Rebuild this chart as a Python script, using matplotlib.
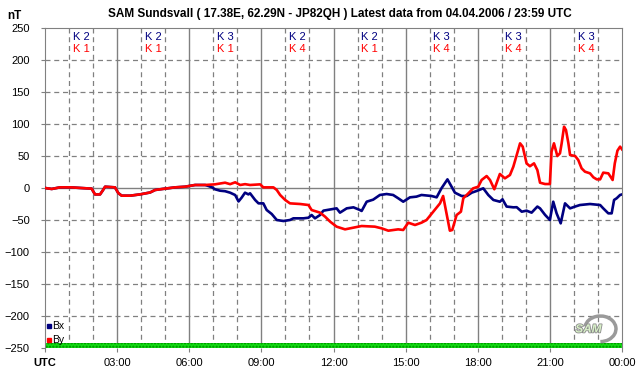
import matplotlib
matplotlib.use('Agg')
import matplotlib.pyplot as plt
import matplotlib.patheffects as pe
from matplotlib.patches import Arc
import numpy as np

plt.rcParams['font.family'] = ['Liberation Sans', 'DejaVu Sans']

# hours (UTC) and nT values
hours_bx = [0, 0.28, 0.62, 1.08, 1.5, 1.94, 2.08, 2.29, 2.4, 2.5, 2.91, 3.05, 3.19,
            3.54, 3.95, 4.37, 4.58, 4.99, 5.41, 5.82, 6.24, 6.66, 6.8, 6.95, 7.07,
            7.28, 7.49, 7.7, 7.91, 8.05, 8.18, 8.32, 8.46, 8.53, 8.74, 8.88, 9.08,
            9.22, 9.43, 9.64, 9.92, 10.19, 10.33, 10.75, 10.96, 11.09, 11.23, 11.44,
            11.58, 12.13, 12.27, 12.55, 12.83, 13.1, 13.17, 13.38, 13.65, 13.93,
            14.21, 14.48, 14.69, 14.9, 15.18, 15.45, 15.66, 16.08, 16.29, 16.49,
            16.74, 17.05, 17.33, 17.54, 17.75, 17.95, 18.23, 18.44, 18.65, 18.92,
            19.03, 19.2, 19.48, 19.62, 19.83, 20.03, 20.24, 20.48, 20.59, 20.8,
            21.0, 21.14, 21.28, 21.45, 21.63, 21.84, 22.05, 22.25, 22.67, 23.09,
            23.22, 23.43, 23.57, 23.67, 23.78, 23.92, 24.0]
bx = [0, -1.5, 1, 1, 0, -1, -10, -10, -4, 2, 1, -8, -12,
      -12, -10, -7, -3.1, -1, 1, 2, 4.7, 4.7, 3.1, 1, -2,
      -4.2, -5, -7.3, -11, -21, -15, -7.3, -10, -8.3, -18.7, -24, -24,
      -34.4, -40.6, -50, -51.6, -50, -47.4, -47.4, -46.4, -42.2, -47.4, -42.2,
      -35.4, -31.8, -38.5, -31.8, -30.2, -34.4, -35.9, -21.4, -18.2, -10.9,
      -9.4, -10.9, -16, -21.4, -14.6, -13.5, -10.9, -12.5, -14.6, -0.5,
      13.5, -7.3, -12.5, -12.5, -7.3, -4.7, -0.5, -11, -18.7, -21.4,
      -17.7, -29, -30.2, -30, -37, -35.4, -38.5, -29, -31.8, -42,
      -50, -21.4, -39.6, -55.2, -24, -31.8, -29, -26.6, -25, -26.6,
      -31.8, -39.6, -39.6, -18.7, -16, -10.9, -10]

hours_by = [0, 0.28, 0.62, 1.08, 1.5, 1.94, 2.08, 2.29, 2.4, 2.5, 2.91, 3.05, 3.19,
            3.54, 3.95, 4.37, 4.58, 4.99, 5.41, 5.82, 6.24, 6.66, 7.07, 7.49, 7.7,
            7.91, 8.12, 8.32, 8.53, 8.95, 9.08, 9.5, 9.64, 9.78, 9.99, 10.19, 10.61,
            10.96, 11.09, 11.44, 11.65, 11.86, 12.13, 12.48, 12.89, 13.17, 13.72,
            14.0, 14.28, 14.69, 14.9, 15.11, 15.39, 15.66, 15.87, 16.15, 16.43,
            16.56, 16.7, 16.84, 16.94, 17.12, 17.3, 17.4, 17.61, 17.81, 18.02,
            18.16, 18.37, 18.51, 18.69, 18.92, 19.13, 19.34, 19.48, 19.64, 19.76,
            19.87, 20.03, 20.17, 20.34, 20.48, 20.59, 20.8, 21.0, 21.07, 21.17,
            21.31, 21.42, 21.49, 21.59, 21.67, 21.77, 21.84, 22.05, 22.18, 22.32,
            22.46, 22.67, 22.81, 22.95, 23.09, 23.22, 23.43, 23.54, 23.61, 23.7,
            23.81, 23.92, 24.0]
by = [0, -1.5, 1, 1, 0, -1, -10, -10, -4, 2, 1, -8, -12,
      -12, -10, -7, -3.1, -1, 1, 2, 4.7, 4.7, 5.7, 8.3, 6,
      8.9, 4.7, 6, 4.7, 5.7, 1, 1, -3.1, -10.9, -18.7, -24, -25,
      -26.6, -34.4, -38.5, -44.8, -52.6, -60.4, -64.6, -61.5, -59.4, -60.4,
      -63, -66.7, -64.6, -65.6, -54.2, -57.8, -54.2, -50, -37, -24,
      -12.5, -39.6, -66.7, -65.6, -42.2, -37, -16, -8.3, -0.5, 2,
      12.5, 18.7, 12.5, -2, 21.9, 15.1, 20.3, 33.3, 54, 69.8,
      64.6, 38.5, 34, 38.5, 28, 8.3, 6.2, 6.2, 56.8, 69.8,
      50, 54.2, 69.8, 95.8, 90.6, 69.8, 51.6, 50, 43.8, 30.7,
      25.5, 22.9, 16.7, 13.5, 13.5, 24, 22.9, 16.7, 12.5, 38.5,
      58.3, 64.6, 60.4]

k_bx = [2, 2, 3, 2, 2, 3, 3, 3]
k_by = [1, 1, 1, 4, 1, 4, 4, 4]
x_labels = ['UTC', '03:00', '06:00', '09:00', '12:00', '15:00', '18:00', '21:00', '00:00']

fig = plt.figure(figsize=(6.42, 3.76), dpi=100)
ax = fig.add_axes([45 / 642, 1 - 348 / 376, 577 / 642, 320 / 376])
ax.set_xlim(0, 24)
ax.set_ylim(-250, 250)

grid = '#808080'
# grid: solid every 3 h and at 0, dashed elsewhere
for h in range(1, 24):
    if h % 3 == 0:
        ax.axvline(h, color=grid, lw=1.0, zorder=1)
    else:
        ax.axvline(h, color=grid, lw=0.9, ls=(0, (4, 3)), zorder=1)
for v in range(-200, 250, 50):
    if v == 0:
        ax.axhline(v, color=grid, lw=1.0, zorder=1)
    else:
        ax.axhline(v, color=grid, lw=0.9, ls=(0, (4, 3)), zorder=1)

ax.axhspan(-250, -241.5, facecolor='#11dd11', edgecolor='#008800', hatch='.....', lw=0, zorder=2)

ax.plot(hours_bx, bx, color='#000080', lw=1.9, zorder=3)
ax.plot(hours_by, by, color='#ff0000', lw=1.9, zorder=4)

for i in range(8):
    ax.text(1.5 + 3 * i, 236, 'K %d' % k_bx[i], color='#000080', fontsize=8,
            ha='center', va='center')
    ax.text(1.5 + 3 * i, 217, 'K %d' % k_by[i], color='#ff0000', fontsize=8,
            ha='center', va='center')

# legend
ax.plot([0.17], [-215], 's', color='#000080', ms=2.5, zorder=5)
ax.text(0.3, -215, 'Bx', fontsize=7.5, va='center', color='black')
ax.plot([0.17], [-237], 's', color='#ff0000', ms=2.5, zorder=5)
ax.text(0.3, -237, 'By', fontsize=7.5, va='center', color='black')

# logo
ax.add_patch(Arc((23.1, -220), 1.3, 40, theta1=-90, theta2=100, color='#9a9a9a',
                 lw=2.5, zorder=5))
ax.text(22.6, -221, 'SAM', fontsize=8.5, style='italic', fontweight='bold',
        color='#d8f0c8', ha='center', va='center', zorder=6,
        path_effects=[pe.withStroke(linewidth=1.2, foreground='#8a8a8a')])

for s in ['left', 'right', 'top']:
    ax.spines[s].set_color(grid)
ax.spines['bottom'].set_visible(False)

ax.set_yticks(range(-250, 251, 50))
ax.set_xticks(range(0, 25, 3))
ax.set_xticklabels(x_labels)
ax.get_xticklabels()[0].set_fontweight('bold')
ax.tick_params(axis='y', length=3, color=grid, labelsize=8, pad=8)
ax.tick_params(axis='x', length=3, color=grid, labelsize=8, pad=4)

fig.text(14 / 642, 1 - 16 / 376, 'nT', fontsize=8.5, fontweight='bold', ha='center', va='center')
fig.text(340 / 642, 1 - 14 / 376,
         'SAM Sundsvall ( 17.38E, 62.29N - JP82QH ) Latest data from 04.04.2006 / 23:59 UTC',
         fontsize=8.5, fontweight='bold', ha='center', va='center')

fig.savefig('out.png', dpi=100, facecolor='white')
